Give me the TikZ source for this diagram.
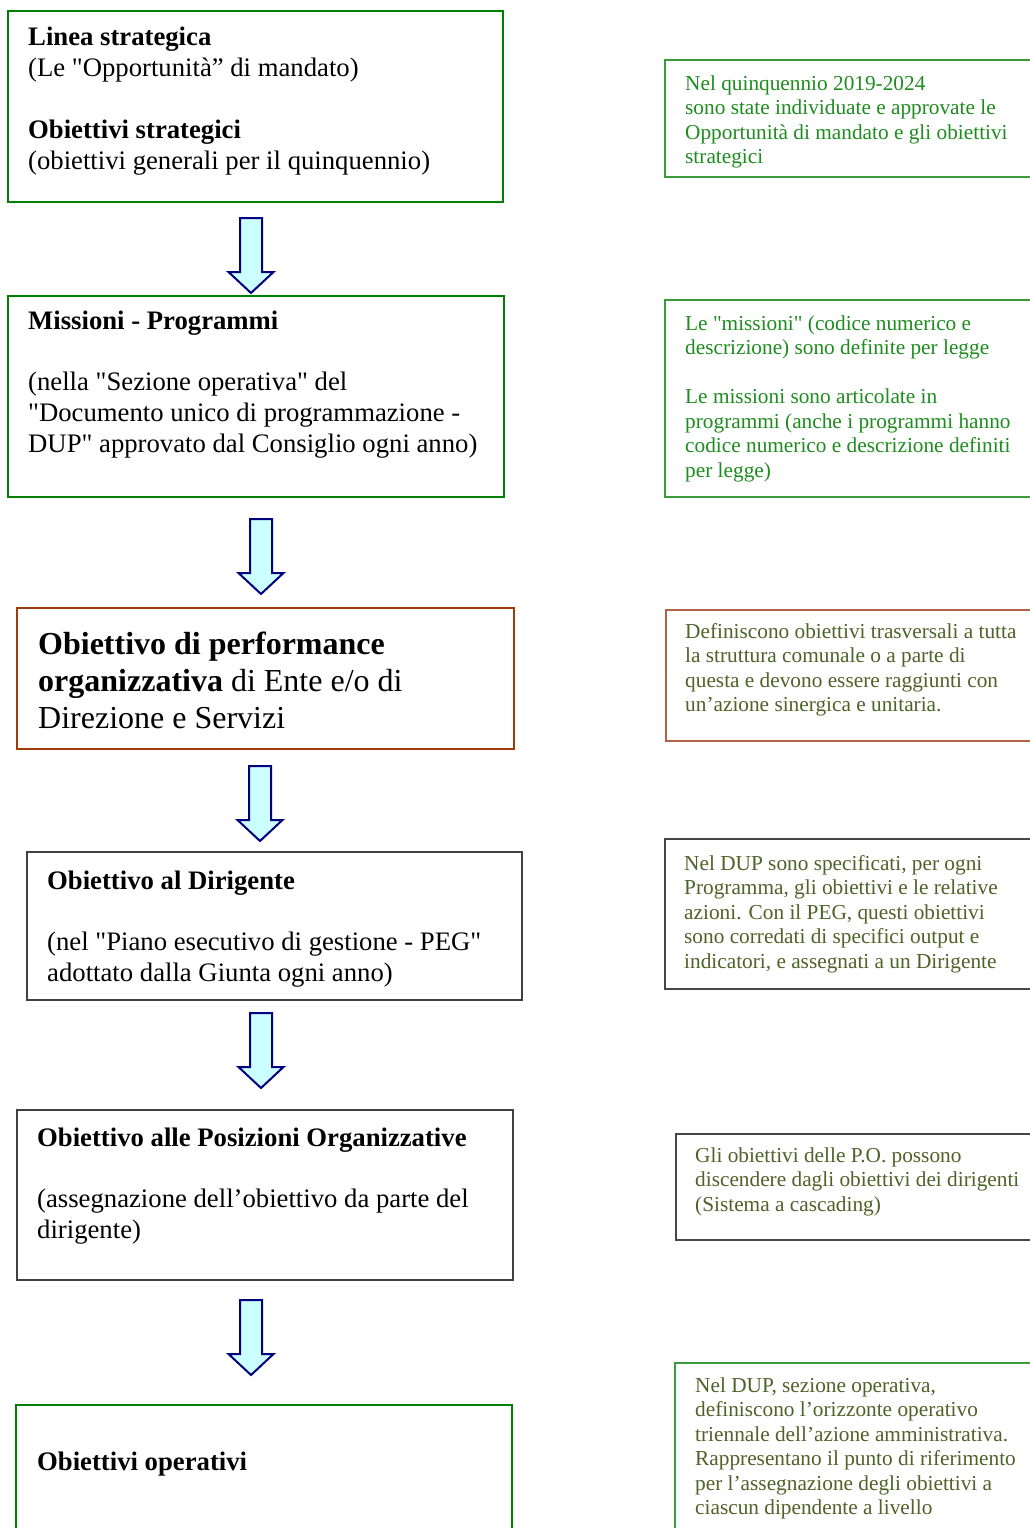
\documentclass[tikz,border=0pt]{standalone}
\usepackage{fontspec}
\setmainfont{Liberation Serif}[Ligatures=TeXOff]
\definecolor{lgreen}{RGB}{0,128,0}
\definecolor{lrust}{RGB}{160,60,10}
\definecolor{lgray}{RGB}{64,64,64}
\definecolor{rgreen}{RGB}{60,155,60}
\definecolor{rbrown}{RGB}{180,100,70}
\definecolor{rgray}{RGB}{70,70,70}
\definecolor{tgreen}{RGB}{30,140,30}
\definecolor{tolive}{RGB}{79,98,40}
\definecolor{anavy}{RGB}{0,0,128}
\definecolor{afill}{RGB}{204,255,255}
\newcommand{\lfont}{\fontsize{26.7pt}{30.8pt}\selectfont}
\newcommand{\bigfont}{\fontsize{32pt}{37.4pt}\selectfont}
\newcommand{\rfont}{\fontsize{21.3pt}{24.5pt}\selectfont}
\newcommand{\ltxt}[1]{\parbox[t]{490pt}{\raggedright #1}}
\newcommand{\rtxt}[1]{\parbox[t]{420pt}{\raggedright #1}}
\newcommand{\gap}{\\[\baselineskip]}
\begin{document}
\begin{tikzpicture}[x=1pt,y=1pt,
  lbox/.style={draw, line width=2.5pt, rectangle, inner sep=0, outer sep=0, anchor=north west},
  rbox/.style={draw, line width=1.1pt, rectangle, inner sep=0, outer sep=0, anchor=north west},
  ltext/.style={anchor=base west, inner sep=0, font=\lfont, text=black},
  rtext/.style={anchor=base west, inner sep=0, font=\rfont},
  arrowline/.style={draw=anavy, fill=afill, line width=2pt, line join=miter},
  blockarrow/.pic={\draw[arrowline] (-11,0) -- (11,0) -- (11,-54) -- (22.5,-54) -- (0,-75) -- (-22.5,-54) -- (-11,-54) -- cycle;}
]
\useasboundingbox (0,0) rectangle (1030,-1528);
\clip (0,0) rectangle (1030,-1528);
\fill[white] (0,0) rectangle (1030,-1528);

% left boxes
\node[lbox, draw=lgreen, minimum width=495pt, minimum height=191pt] (b1) at (8,-11) {};
\node[lbox, draw=lgreen, minimum width=496pt, minimum height=201pt] (b2) at (8,-296) {};
\node[lbox, draw=lrust, minimum width=497pt, minimum height=141pt] (b3) at (17,-608) {};
\node[lbox, draw=lgray, minimum width=495pt, minimum height=148pt] (b4) at (27,-852) {};
\node[lbox, draw=lgray, minimum width=496pt, minimum height=170pt] (b5) at (17,-1110) {};
\node[lbox, draw=lgreen, minimum width=496pt, minimum height=135pt] (b6) at (16,-1405) {};

% left texts
\node[ltext] (t1) at (28,-46) {\ltxt{\textbf{Linea strategica}\\ (Le "Opportunità” di mandato)\gap \textbf{Obiettivi strategici}\\ (obiettivi generali per il quinquennio)}};
\node[ltext] (t2) at (28,-329) {\ltxt{\textbf{Missioni - Programmi}\gap (nella "Sezione operativa" del\\ "Documento unico di programmazione -\\ DUP" approvato dal Consiglio ogni anno)}};
\node[ltext, font=\bigfont] (t3) at (38,-654) {\ltxt{\textbf{Obiettivo di performance}\\ \textbf{organizzativa} di Ente e/o di\\ Direzione e Servizi}};
\node[ltext] (t4) at (47,-889) {\ltxt{\textbf{Obiettivo al Dirigente}\gap (nel "Piano esecutivo di gestione - PEG"\\ adottato dalla Giunta ogni anno)}};
\node[ltext] (t5) at (37,-1146) {\ltxt{\textbf{Obiettivo alle Posizioni Organizzative}\gap (assegnazione dell’obiettivo da parte del\\ dirigente)}};
\node[ltext] (t6) at (37,-1470) {\ltxt{\textbf{Obiettivi operativi}}};

% arrows
\coordinate (a1) at (251,-218);
\coordinate (a2) at (261,-519);
\coordinate (a3) at (260,-766);
\coordinate (a4) at (261,-1013);
\coordinate (a5) at (251,-1300);
\pic at (a1) {blockarrow};
\pic at (a2) {blockarrow};
\pic at (a3) {blockarrow};
\pic at (a4) {blockarrow};
\pic at (a5) {blockarrow};

% right boxes
\node[rbox, draw=rgreen, minimum width=380pt, minimum height=117pt] (r1) at (665,-60) {};
\node[rbox, draw=rgreen, minimum width=380pt, minimum height=197pt] (r2) at (665,-300) {};
\node[rbox, draw=rbrown, minimum width=380pt, minimum height=131pt] (r3) at (666,-610) {};
\node[rbox, draw=rgray, minimum width=380pt, minimum height=150pt] (r4) at (665,-839) {};
\node[rbox, draw=rgray, minimum width=380pt, minimum height=106pt] (r5) at (676,-1134) {};
\node[rbox, draw=rgreen, minimum width=380pt, minimum height=180pt] (r6) at (675,-1363) {};

% right texts
\node[rtext, text=tgreen] (s1) at (685,-90) {\rtxt{Nel quinquennio 2019-2024\\ sono state individuate e approvate le\\ Opportunità di mandato e gli obiettivi\\ strategici}};
\node[rtext, text=tgreen] (s2) at (685,-330) {\rtxt{Le "missioni" (codice numerico e\\ descrizione) sono definite per legge\gap Le missioni sono articolate in\\ programmi (anche i programmi hanno\\ codice numerico e descrizione definiti\\ per legge)}};
\node[rtext, text=tolive] (s3) at (685,-638) {\rtxt{Definiscono obiettivi trasversali a tutta\\ la struttura comunale o a parte di\\ questa e devono essere raggiunti con\\ un’azione sinergica e unitaria.}};
\node[rtext, text=tolive] (s4) at (684,-870) {\rtxt{Nel DUP sono specificati, per ogni\\ Programma, gli obiettivi e le relative\\ azioni. Con il PEG, questi obiettivi\\ sono corredati di specifici output e\\ indicatori, e assegnati a un Dirigente}};
\node[rtext, text=tolive] (s5) at (695,-1162) {\rtxt{Gli obiettivi delle P.O. possono\\ discendere dagli obiettivi dei dirigenti\\ (Sistema a cascading)}};
\node[rtext, text=tolive] (s6) at (695,-1392) {\rtxt{Nel DUP, sezione operativa,\\ definiscono l’orizzonte operativo\\ triennale dell’azione amministrativa.\\ Rappresentano il punto di riferimento\\ per l’assegnazione degli obiettivi a\\ ciascun dipendente a livello}};
\end{tikzpicture}
\end{document}
